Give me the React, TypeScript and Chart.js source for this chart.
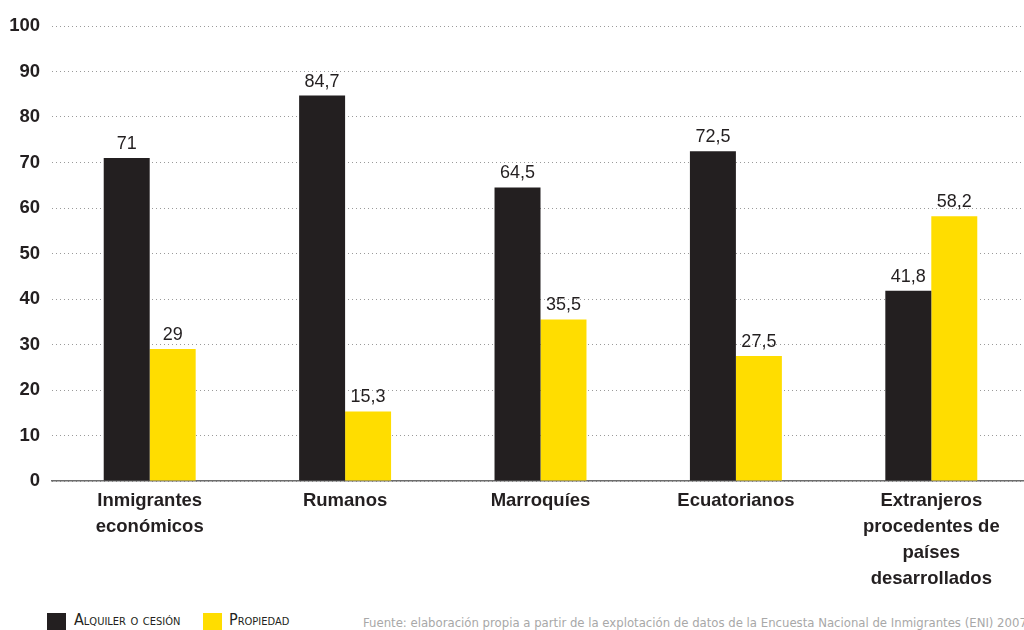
import React, { useEffect, useRef } from "react";
import { Chart, registerables } from "chart.js";

Chart.register(...registerables);

const categories: (string | string[])[] = [
  ["Inmigrantes", "económicos"],
  "Rumanos",
  "Marroquíes",
  "Ecuatorianos",
  ["Extranjeros", "procedentes de", "países", "desarrollados"],
];
const alquiler = [71, 84.7, 64.5, 72.5, 41.8];
const propiedad = [29, 15.3, 35.5, 27.5, 58.2];
const seriesNames = ["Alquiler o cesión", "Propiedad"];
const yTicks = [0, 10, 20, 30, 40, 50, 60, 70, 80, 90, 100];
const source =
  "Fuente: elaboración propia a partir de la explotación de datos de la Encuesta Nacional de Inmigrantes (ENI) 2007";

const BLACK = "#231f20";
const YELLOW = "#ffdd00";
const FONT = "'Liberation Sans', Arial, Helvetica, sans-serif";
const NARROW = "'Liberation Sans Narrow', 'DejaVu Sans Condensed', " + FONT;

const valueLabels = {
  id: "valueLabels",
  afterDatasetsDraw(chart: any) {
    const ctx = chart.ctx;
    ctx.save();
    ctx.font = `18px ${FONT}`;
    ctx.fillStyle = "#231f20";
    ctx.textAlign = "center";
    ctx.textBaseline = "bottom";
    chart.data.datasets.forEach((ds: any, i: number) => {
      const meta = chart.getDatasetMeta(i);
      meta.data.forEach((bar: any, j: number) => {
        const v = ds.data[j];
        ctx.fillText(String(v).replace(".", ","), bar.x, bar.y - 5);
      });
    });
    ctx.restore();
  },
};

export default function App() {
  const ref = useRef<HTMLCanvasElement>(null);
  useEffect(() => {
    const chart = new Chart(ref.current!, {
      type: "bar",
      data: {
        labels: categories,
        datasets: [
          { label: seriesNames[0], data: alquiler, backgroundColor: BLACK },
          { label: seriesNames[1], data: propiedad, backgroundColor: YELLOW },
        ],
      },
      options: {
        responsive: false,
        animation: false,
        layout: { padding: { top: 26, right: 11, bottom: 0, left: 0 } },
        plugins: { legend: { display: false }, tooltip: { enabled: false } },
        datasets: { bar: { categoryPercentage: 0.4706, barPercentage: 1 } },
        scales: {
          x: {
            grid: { display: false, drawTicks: false },
            border: { display: true, color: "#6d6d6d", width: 1.5 },
            ticks: {
              color: "#231f20",
              font: { family: FONT, size: 18.5, weight: "bold", lineHeight: 1.41 },
              padding: 7,
              maxRotation: 0,
              autoSkip: false,
            },
            afterFit: (axis: any) => {
              axis.height = 119;
            },
          },
          y: {
            min: 0,
            max: 100,
            afterBuildTicks: (axis: any) => {
              axis.ticks = yTicks.map((v) => ({ value: v }));
            },
            grid: {
              color: "#9a9a9a",
              lineWidth: 1,
              drawTicks: false,
            },
            border: { display: false, dash: [1, 3] },
            ticks: {
              color: "#231f20",
              font: { family: FONT, size: 18.5, weight: "bold" },
              padding: 12,
            },
            afterFit: (axis: any) => {
              axis.width = 52;
            },
          },
        },
      },
      plugins: [valueLabels],
    });
    return () => chart.destroy();
  }, []);

  const legendText: React.CSSProperties = {
    position: "absolute",
    top: 610,
    fontFamily: NARROW,
    fontSize: 16,
    fontVariant: "small-caps",
    color: "#231f20",
    whiteSpace: "nowrap",
  };

  return (
    <div
      style={{
        position: "fixed",
        left: 0,
        top: 0,
        width: 1024,
        height: 630,
        overflow: "hidden",
        background: "#fff",
      }}
    >
      <canvas ref={ref} width={1040} height={600} style={{ display: "block" }} />
      <div style={{ position: "absolute", left: 47, top: 613, width: 19, height: 20, background: BLACK }} />
      <div style={{ ...legendText, left: 74 }}>{seriesNames[0]}</div>
      <div style={{ position: "absolute", left: 203, top: 613, width: 19, height: 20, background: YELLOW }} />
      <div style={{ ...legendText, left: 229 }}>{seriesNames[1]}</div>
      <div
        style={{
          position: "absolute",
          left: 363,
          top: 615,
          fontFamily: NARROW,
          fontSize: 13,
          color: "#a8a8a8",
          whiteSpace: "nowrap",
        }}
      >
        {source}
      </div>
    </div>
  );
}
